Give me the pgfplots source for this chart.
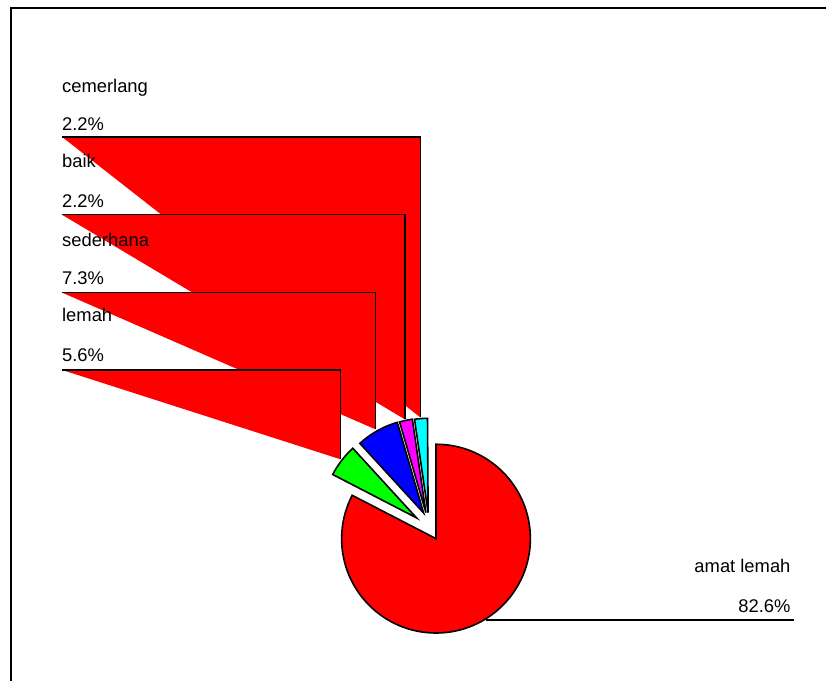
\documentclass[border=0pt]{standalone}
\usepackage{pgfplots}
\pgfplotsset{compat=1.18}
\usepackage{fontspec}
\setmainfont{Liberation Sans}
\definecolor{pRed}{RGB}{255,0,0}
\definecolor{pGreen}{RGB}{0,255,0}
\definecolor{pBlue}{RGB}{0,0,255}
\definecolor{pMag}{RGB}{255,0,255}
\definecolor{pCyan}{RGB}{0,255,255}
\begin{document}
\begin{tikzpicture}
% shares (%): amat lemah, lemah, sederhana, baik, cemerlang
\def\vA{82.6}\def\vB{5.6}\def\vC{7.3}\def\vD{2.2}\def\vE{2.2}
\pgfmathsetmacro{\aA}{90}
\pgfmathsetmacro{\aB}{\aA-3.6*\vA}
\pgfmathsetmacro{\aC}{\aB-3.6*\vB}
\pgfmathsetmacro{\aD}{\aC-3.6*\vC}
\pgfmathsetmacro{\aE}{\aD-3.6*\vD}
\pgfmathsetmacro{\aF}{\aE-3.6*\vE}
\def\R{70.9pt}
\begin{axis}[
    scale only axis,
    width=620.25pt, height=511.5pt,
    xmin=0, xmax=827, ymin=0, ymax=682,
    y dir=reverse,
    hide axis,
    clip=false,
    font=\fontsize{13.8}{16}\selectfont,
]
\path (axis cs:0,0) rectangle (axis cs:827,682);
% outer frame
\addplot[draw=black, line width=2pt] coordinates {(11,682) (11,8) (827,8)};

% leader lines (filled, as in the original)
\addplot[draw=black, fill=pRed, line width=1.2pt] coordinates {(62,137) (421,137) (421,418)};
\addplot[draw=black, fill=pRed, line width=1.2pt] coordinates {(62,215) (405.5,215) (405.5,420)};
\addplot[draw=black, fill=pRed, line width=1.2pt] coordinates {(62,293) (376,293) (376,430)};
\addplot[draw=black, fill=pRed, line width=1.2pt] coordinates {(62,370.5) (341,370.5) (341,460)};
\addplot[draw=black, line width=1.2pt] coordinates {(487,621) (795,621)};

% slices
\filldraw[fill=pRed, draw=black, line width=1.2pt] (axis cs:436.7,539.5) -- ++(\aA:\R) arc[start angle=\aA, end angle=\aB, radius=\R] -- cycle;
\filldraw[fill=pGreen, draw=black, line width=1.2pt] (axis cs:417.2,518.7) -- ++(\aB:\R) arc[start angle=\aB, end angle=\aC, radius=\R] -- cycle;
\filldraw[fill=pBlue, draw=black, line width=1.2pt] (axis cs:424.3,513.8) -- ++(\aC:\R) arc[start angle=\aC, end angle=\aD, radius=\R] -- cycle;
\filldraw[fill=pMag, draw=black, line width=1.2pt] (axis cs:426.6,513.4) -- ++(\aD:\R) arc[start angle=\aD, end angle=\aE, radius=\R] -- cycle;
\filldraw[fill=pCyan, draw=black, line width=1.2pt] (axis cs:428.8,513.5) -- ++(\aE:\R) arc[start angle=\aE, end angle=\aF, radius=\R] -- cycle;

% labels
\node[anchor=base west, inner sep=0pt] at (axis cs:62,93) {cemerlang};
\node[anchor=base west, inner sep=0pt] at (axis cs:62,131) {2.2\%};
\node[anchor=base west, inner sep=0pt] at (axis cs:62,168) {baik};
\node[anchor=base west, inner sep=0pt] at (axis cs:62,208) {2.2\%};
\node[anchor=base west, inner sep=0pt] at (axis cs:62,247) {sederhana};
\node[anchor=base west, inner sep=0pt] at (axis cs:62,285) {7.3\%};
\node[anchor=base west, inner sep=0pt] at (axis cs:62,322) {lemah};
\node[anchor=base west, inner sep=0pt] at (axis cs:62,362) {5.6\%};
\node[anchor=base east, inner sep=0pt] at (axis cs:792,573) {amat lemah};
\node[anchor=base east, inner sep=0pt] at (axis cs:792,613) {82.6\%};
\end{axis}
\end{tikzpicture}
\end{document}
